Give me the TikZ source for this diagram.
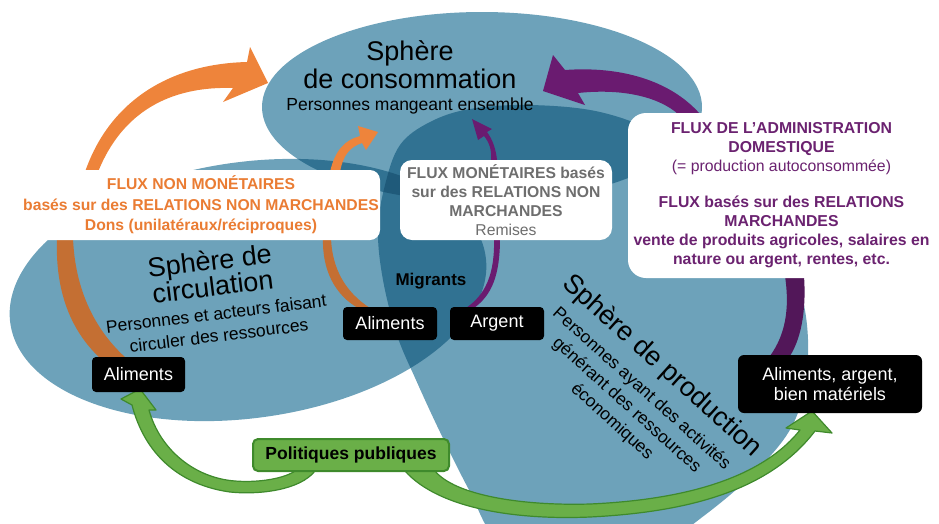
\documentclass[tikz,border=0pt]{standalone}
\usepackage{fontspec}
\setmainfont{Liberation Sans}
\usetikzlibrary{calc}
\definecolor{lb}{HTML}{6DA2BA}
\definecolor{db}{HTML}{317292}
\definecolor{tb}{HTML}{1F5A7A}
\definecolor{orb}{HTML}{EE843B}
\definecolor{ord}{HTML}{C46F33}
\definecolor{otx}{HTML}{EA7C33}
\definecolor{pur}{HTML}{6A1B70}
\definecolor{purd}{HTML}{521759}
\definecolor{ptx}{HTML}{6B2270}
\definecolor{gtx}{HTML}{6E6E6E}
\definecolor{grn}{HTML}{6AAF48}
\definecolor{grnd}{HTML}{3F8A2C}
\tikzset{
  cons/.style={rotate around={0:(482,107)}},
  circ/.style={rotate around={8:(248,290)}},
  blackbox/.style={fill=black, text=white, rounded corners=4pt, inner sep=0pt,
    font=\fontsize{18}{20}\selectfont, align=center},
  whitebox/.style={fill=white, inner sep=0pt, align=center},
  bigtitle/.style={anchor=base, font=\fontsize{27}{30}\selectfont},
  subtitle/.style={anchor=base, font=\fontsize{17.5}{20}\selectfont},
  greenarrow/.style={fill=grn, draw=grnd, line width=1.2pt, line join=round},
}
\def\pcons{(482,107) ellipse [x radius=220, y radius=95]}
\def\pcirc{(248,290) ellipse [x radius=240, y radius=128]}
\def\pprod{plot[smooth cycle, tension=0.6] coordinates {(530,105) (600,112) (660,135) (710,175)
  (765,230) (800,290) (808,360) (795,420) (760,467) (705,515) (640,558) (560,577) (500,545)
  (468,488) (440,432) (416,380) (397,335) (383,280) (378,230) (385,185) (400,145)
  (430,122) (470,109)}}
\begin{document}
\begin{tikzpicture}[x=1pt,y=-1pt]
\useasboundingbox (0,0) rectangle (939,523);
\begin{scope}
\clip (0,0) rectangle (939,523);
% spheres
\fill[lb,cons] \pcons;
\fill[lb,circ] \pcirc;
\fill[lb] \pprod;
\begin{scope}\clip[cons] \pcons; \fill[db,circ] \pcirc; \fill[db] \pprod; \end{scope}
\begin{scope}\clip[circ] \pcirc; \fill[db] \pprod; \end{scope}
\begin{scope}\clip[cons] \pcons; \clip[circ] \pcirc; \fill[tb] \pprod; \end{scope}
\end{scope}

% orange big arrow
\fill[orb] (85,172) .. controls (108,105) and (165,64) .. (247,62) -- (250,47) -- (268,83)
  -- (223,102) -- (233,88) .. controls (170,86) and (122,112) .. (98,172) -- cycle;
\fill[ord] (57,238) .. controls (55,290) and (70,330) .. (100,358) -- (126,358)
  .. controls (95,330) and (75,290) .. (73,238) -- cycle;
% orange small arrow
\fill[ord] (323,238) .. controls (322,270) and (335,295) .. (358,308) -- (370,308)
  .. controls (345,292) and (332,268) .. (331,238) -- cycle;
\fill[orb] (330,172) .. controls (335,150) and (345,140) .. (360,136) -- (358,126) -- (378,132)
  -- (366,150) -- (362,143) .. controls (350,147) and (343,155) .. (340,172) -- cycle;
% purple big arrow
\fill[pur] (700,114) .. controls (670,80) and (620,66) .. (565,70) -- (553,55) -- (543,91)
  -- (585,105) -- (578,93) .. controls (625,88) and (660,98) .. (678,114) -- cycle;
\fill[purd] (785,276) .. controls (790,310) and (785,335) .. (770,356) -- (790,356)
  .. controls (803,335) and (806,305) .. (804,276) -- cycle;
% purple small arrow
\fill[pur] (491,160) .. controls (492,150) and (489,142) .. (484,136) -- (478,140) -- (472,119)
  -- (492,129) -- (487,132) .. controls (493,140) and (496,150) .. (497,160) -- cycle;
\fill[pur] (494,238) .. controls (495,275) and (485,295) .. (466,308) -- (474,308)
  .. controls (492,295) and (500,275) .. (500,238) -- cycle;

% white boxes
\node[whitebox, rounded corners=10pt, minimum width=358pt, minimum height=70pt, text=otx,
  font=\bfseries\fontsize{15.7}{20.5}\selectfont] (obox) at (201,205)
  {FLUX NON MONÉTAIRES\\basés sur des RELATIONS NON MARCHANDES\\Dons (unilatéraux/réciproques)};
\node[whitebox, rounded corners=12pt, minimum width=212pt, minimum height=80pt, text=gtx,
  font=\fontsize{15.7}{19}\selectfont] (gbox) at (506,200)
  {\textbf{FLUX MONÉTAIRES basés}\\\textbf{sur des RELATIONS NON}\\\textbf{MARCHANDES}\\Remises};
\node[whitebox, rounded corners=18pt, minimum width=307pt, minimum height=165pt, text=ptx,
  font=\fontsize{15.8}{19}\selectfont] (pbox) at (781.5,195.5)
  {\textbf{FLUX DE L’ADMINISTRATION}\\\textbf{DOMESTIQUE}\\(= production autoconsommée)\\[17pt]%
   \textbf{FLUX basés sur des RELATIONS}\\\textbf{MARCHANDES}\\%
   \textbf{vente de produits agricoles, salaires en}\\\textbf{nature ou argent, rentes, etc.}};

% green arrows
\filldraw[greenarrow] (315,471) .. controls (300,490) and (260,495) .. (230,492)
  .. controls (180,485) and (145,455) .. (132,405) -- (121,399) -- (140,389) -- (156,410)
  -- (149,410) .. controls (160,450) and (195,478) .. (235,481)
  .. controls (260,483) and (285,478) .. (295,471) -- cycle;
\filldraw[greenarrow] (405,471) .. controls (440,510) and (520,520) .. (590,517)
  .. controls (690,512) and (770,490) .. (815,431) -- (832,433) -- (812,411) -- (786,428)
  -- (800,430) .. controls (760,480) and (680,500) .. (590,504)
  .. controls (520,506) and (455,495) .. (435,471) -- cycle;

% titles
\node[bigtitle] (c1) at (410,60) {Sphère};
\node[bigtitle] (c2) at (410,88) {de consommation};
\node[subtitle] (c3) at (410,110) {Personnes mangeant ensemble};
\begin{scope}[rotate around={7:(214,296)}, transform shape]
\node[bigtitle] (r1) at (214,270) {Sphère de};
\node[bigtitle] (r2) at (214,296) {circulation};
\node[subtitle] (r3) at (214,320) {Personnes et acteurs faisant};
\node[subtitle] (r4) at (214,342) {circuler des ressources};
\end{scope}
\begin{scope}[rotate around={-42:(663,365)}, transform shape]
\node[bigtitle] (p1) at (663,374) {Sphère de production};
\node[subtitle] (p2) at (663,402) {Personnes ayant des activités};
\node[subtitle] (p3) at (663,424) {générant des ressources};
\node[subtitle] (p4) at (663,446) {économiques};
\end{scope}
\node[font=\bfseries\fontsize{17}{20}\selectfont] (mig) at (431,281) {Migrants};

% black boxes
\node[blackbox, minimum width=93pt, minimum height=35pt] (aliL) at (138.5,374.5) {Aliments};
\node[blackbox, minimum width=94pt, minimum height=33pt] (aliM) at (390,323.5) {Aliments};
\node[blackbox, minimum width=94pt, minimum height=33pt] (arg) at (497,323.5) {Argent};
\node[blackbox, minimum width=184pt, minimum height=58pt, rounded corners=6pt] (aliR) at (830,384)
  {Aliments, argent,\\bien matériels};
\node[fill=grn, draw=grnd, line width=2pt, rounded corners=5pt, minimum width=196pt,
  minimum height=32pt, inner sep=0pt, font=\bfseries\fontsize{17.5}{20}\selectfont] (pol)
  at (351,455) {Politiques publiques};
\end{tikzpicture}
\end{document}
